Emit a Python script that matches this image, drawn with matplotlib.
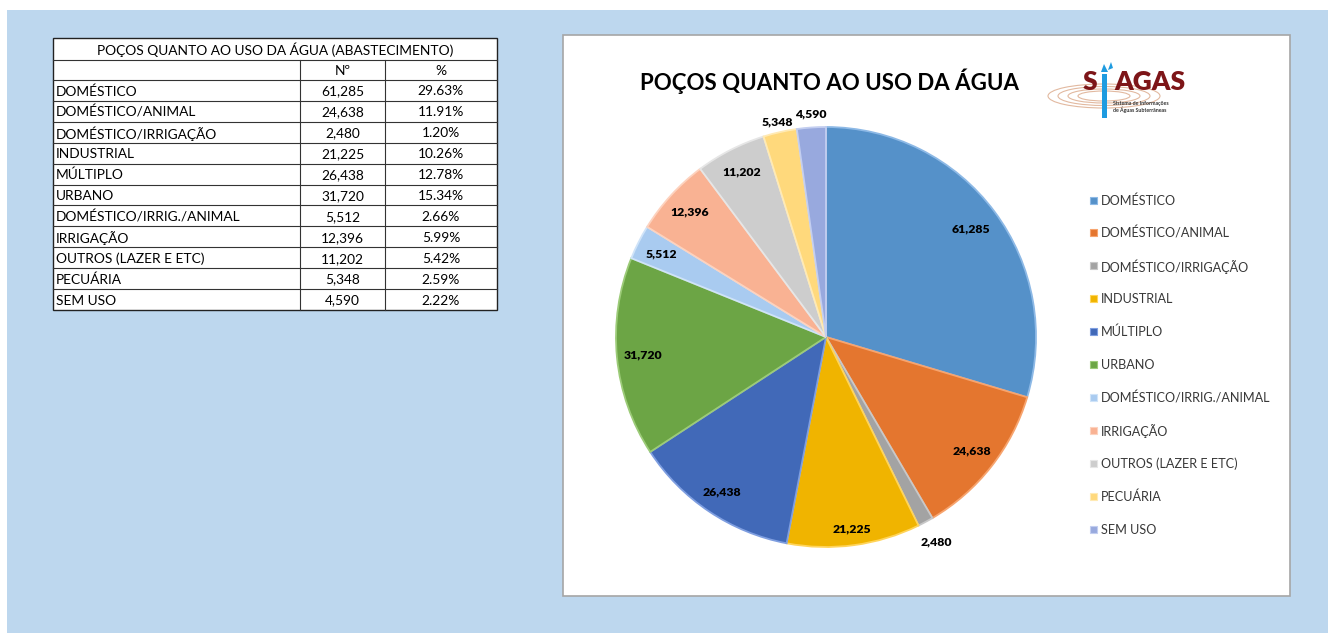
import matplotlib
matplotlib.use("Agg")
import matplotlib.pyplot as plt
from matplotlib.patches import Rectangle, Ellipse, Polygon
import numpy as np

plt.rcParams['font.family'] = ['Lato', 'DejaVu Sans']

# ---------------- data ----------------
categories = ["DOMÉSTICO", "DOMÉSTICO/ANIMAL", "DOMÉSTICO/IRRIGAÇÃO", "INDUSTRIAL",
              "MÚLTIPLO", "URBANO", "DOMÉSTICO/IRRIG./ANIMAL", "IRRIGAÇÃO",
              "OUTROS (LAZER E ETC)", "PECUÁRIA", "SEM USO"]
counts = [61285, 24638, 2480, 21225, 26438, 31720, 5512, 12396, 11202, 5348, 4590]
percents = ["29.63%", "11.91%", "1.20%", "10.26%", "12.78%", "15.34%",
            "2.66%", "5.99%", "5.42%", "2.59%", "2.22%"]
table_title = "POÇOS QUANTO AO USO DA ÁGUA (ABASTECIMENTO)"
col_headers = ["Nº", "%"]
chart_title = "POÇOS QUANTO AO USO DA ÁGUA"

colors = ["#5591C9", "#E4762F", "#A3A3A3", "#F0B400", "#4169B8", "#6CA545",
          "#A9CBF0", "#F9B293", "#CDCDCD", "#FFD97C", "#98A9DE"]
edge_colors = ["#8DB9E6", "#F7A46E", "#C8C8C8", "#FFD45A", "#7E9EE0", "#9CCB78",
               "#CFE3F8", "#FDD2BE", "#E6E6E6", "#FFEAB4", "#C3CEF0"]
label_radius = [0.86, 0.88, 1.11, 0.92, 0.89, 0.875, 0.88, 0.88, 0.885, 1.05, 1.065]

W, H = 1328, 633
fig = plt.figure(figsize=(W / 100, H / 100), dpi=100)
fig.patch.set_facecolor("white")

bg = fig.add_axes([0, 0, 1, 1])
bg.set_xlim(0, W)
bg.set_ylim(H, 0)
bg.axis("off")

# blue background
bg.add_patch(Rectangle((7, 10), W - 7, H - 10, facecolor="#BDD7EE", edgecolor="none", zorder=0))
# chart panel
bg.add_patch(Rectangle((563, 35), 727, 561, facecolor="white", edgecolor="#A6A6A6", lw=1.2, zorder=1))

# ---------------- table ----------------
tx0, tx1, tx2, tx3 = 53, 300, 385, 497
ty_top, ty_title, ty_head = 38, 60, 80
row_h = (310 - 80) / len(categories)
ty_bottom = ty_head + row_h * len(categories)
bg.add_patch(Rectangle((tx0, ty_top), tx3 - tx0, ty_bottom - ty_top,
                       facecolor="white", edgecolor="#222222", lw=1.0, zorder=2))
lc = "#333333"
bg.plot([tx0, tx3], [ty_title, ty_title], color=lc, lw=0.8, zorder=3)
for i in range(len(categories)):
    y = ty_head + row_h * i
    bg.plot([tx0, tx3], [y, y], color=lc, lw=0.8, zorder=3)
for x in (tx1, tx2):
    bg.plot([x, x], [ty_title, ty_bottom], color=lc, lw=0.8, zorder=3)

tfs = 9.9
bg.text((tx0 + tx3) / 2, (ty_top + ty_title) / 2 + 1, table_title, ha="center", va="center",
        fontsize=tfs, color="black", zorder=4)
bg.text((tx1 + tx2) / 2, (ty_title + ty_head) / 2 + 1, col_headers[0], ha="center", va="center",
        fontsize=tfs, zorder=4)
bg.text((tx2 + tx3) / 2, (ty_title + ty_head) / 2 + 1, col_headers[1], ha="center", va="center",
        fontsize=tfs, zorder=4)
for i, (c, n, p) in enumerate(zip(categories, counts, percents)):
    yc = ty_head + row_h * (i + 0.5) + 1
    bg.text(tx0 + 3, yc, c, ha="left", va="center", fontsize=tfs, zorder=4)
    bg.text((tx1 + tx2) / 2, yc, f"{n:,}", ha="center", va="center", fontsize=tfs, zorder=4)
    bg.text((tx2 + tx3) / 2, yc, p, ha="center", va="center", fontsize=tfs, zorder=4)

# ---------------- chart title ----------------
bg.text(830, 81, chart_title, ha="center", va="center", fontsize=16.0, fontweight="bold",
        color="black", zorder=4)

# ---------------- logo ----------------
for (w, h) in [(112, 24), (92, 19), (72, 14), (52, 10)]:
    bg.add_patch(Ellipse((1104, 96), w, h, facecolor="none", edgecolor="#E2B9A0", lw=0.8, zorder=3))
bg.text(1083, 90, "S", ha="left", va="baseline", fontsize=19, fontweight="heavy",
        color="#7D1518", zorder=5)
bg.text(1114, 90, "AGAS", ha="left", va="baseline", fontsize=19, fontweight="heavy",
        color="#7D1518", zorder=5)
bg.add_patch(Rectangle((1102, 74), 5, 44, facecolor="#1E9BE0", edgecolor="none", zorder=6))
bg.add_patch(Polygon([[1101, 72], [1104, 64], [1108, 72]], closed=True, facecolor="#1E9BE0",
                     edgecolor="none", zorder=6))
bg.add_patch(Polygon([[1108, 70], [1111, 62], [1113, 68]], closed=True, facecolor="#1E9BE0",
                     edgecolor="none", zorder=6))
bg.text(1113, 103, "Sistema de Informações", ha="left", va="center", fontsize=3.8,
        fontweight="bold", color="#333333", zorder=5)
bg.text(1113, 110, "de Águas Subterrâneas", ha="left", va="center", fontsize=3.8,
        fontweight="bold", color="#333333", zorder=5)

# ---------------- legend ----------------
leg_y0, leg_dy = 200, 32.9
for i, (c, col) in enumerate(zip(categories, colors)):
    y = leg_y0 + leg_dy * i
    bg.add_patch(Rectangle((1090, y - 3.5), 7, 7, facecolor=col, edgecolor=edge_colors[i],
                           lw=0.8, zorder=4))
    bg.text(1101, y + 0.5, c, ha="left", va="center", fontsize=9.1, color="#383838", zorder=4)

# ---------------- pie ----------------
cx, cy, r = 826, 337, 210
ax = fig.add_axes([(cx - r) / W, (H - cy - r) / H, 2 * r / W, 2 * r / H])
ax.set_zorder(5)
ax.patch.set_alpha(0)
wedges, _ = ax.pie(counts, colors=colors, startangle=90, counterclock=False, radius=1.0,
                   wedgeprops=dict(linewidth=1.3))
for w, ec in zip(wedges, edge_colors):
    w.set_edgecolor(ec)
ax.set_xlim(-1, 1)
ax.set_ylim(-1, 1)
ax.set_aspect("equal")
ax.axis("off")

for w, n, lr in zip(wedges, counts, label_radius):
    th = np.deg2rad((w.theta1 + w.theta2) / 2)
    ax.text(lr * np.cos(th), lr * np.sin(th), f"{n:,}", ha="center", va="center",
            fontsize=8.8, fontweight="heavy", color="black", clip_on=False)

fig.savefig("out.png", dpi=100, facecolor=fig.get_facecolor())
